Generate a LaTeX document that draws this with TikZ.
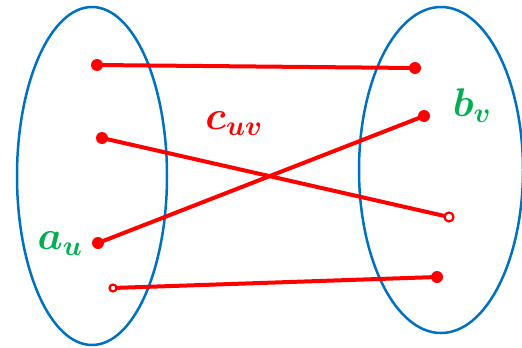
\RequirePackage{fix-cm}
\documentclass[tikz,border=0pt]{standalone}
\usepackage{amsmath,bm}
\usepackage{tikz}
\usetikzlibrary{shapes.geometric}
\definecolor{setblue}{RGB}{0,112,192}
\definecolor{labgreen}{RGB}{0,176,80}

\begin{document}
\begin{tikzpicture}[x=1pt,y=-1pt,
set/.style={draw=setblue,line width=2.5pt,ellipse,inner sep=0pt},
dot/.style={circle,fill=red,inner sep=0pt,minimum size=12pt},
hole/.style={circle,draw=red,line width=2.2pt,inner sep=0pt,minimum size=9pt},
link/.style={draw=red,line width=4pt,line cap=round},
lab/.style={font=\fontsize{40}{40}\selectfont\boldmath}]
\useasboundingbox (0,0) rectangle (522,348);
\node[set,minimum width=150pt,minimum height=338pt] (setU) at (92,176) {};
\node[set,minimum width=164pt,minimum height=326pt] (setV) at (441,170) {};
\node[dot] (u1) at (97,65) {};
\node[dot] (u2) at (102,138) {};
\node[dot] (u3) at (98,243) {};
\node[hole,minimum size=7pt] (u4) at (113,288) {};
\node[dot] (v1) at (415,68) {};
\node[dot] (v2) at (424,116) {};
\node[hole] (v3) at (449,217) {};
\node[dot] (v4) at (437,277) {};
\node[lab,text=labgreen] (au) at (60,244) {$a_u$};
\node[lab,text=labgreen] (bv) at (472,106) {$b_v$};
\node[lab,text=red] (cuv) at (234,124) {$c_{uv}$};
\draw[link] (u1)--(v1);
\draw[link] (u2)--(v3);
\draw[link] (u3)--(v2);
\draw[link] (u4)--(v4);
\end{tikzpicture}
\end{document}
